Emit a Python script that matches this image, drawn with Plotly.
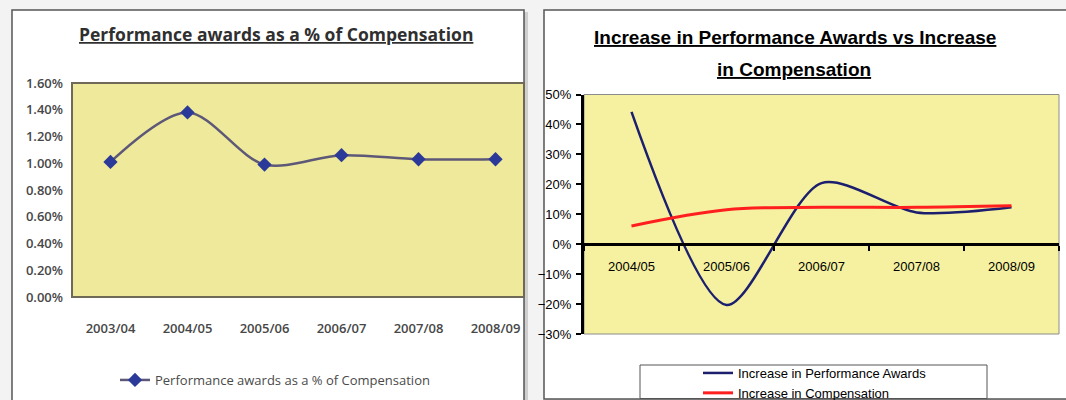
import plotly.graph_objects as go

W, H = 1066, 400

# ---------------- data ----------------
left_years = ["2003/04", "2004/05", "2005/06", "2006/07", "2007/08", "2008/09"]
awards_pct_of_comp = [0.0101, 0.0138, 0.0099, 0.0106, 0.0103, 0.0103]
left_name = "Performance awards as a % of Compensation"

right_years = ["2004/05", "2005/06", "2006/07", "2007/08", "2008/09"]
perf_award_increase = [0.442, -0.203, 0.204, 0.106, 0.123]
comp_increase = [0.061, 0.115, 0.123, 0.123, 0.128]
right_names = ["Increase in Performance Awards", "Increase in Compensation"]

left_title = "Performance awards as a % of Compensation"
right_title = ["Increase in Performance Awards vs Increase", "in Compensation"]

# ---------------- helpers (pixel -> paper) ----------------
def PX(x):
    return x / W

def PY(y):
    return 1 - y / H

# plot-area pixel boxes
L_left, L_right, L_top, L_bot = 72, 524, 83, 297
R_left, R_right, R_top, R_bot = 584, 1059, 94.5, 334
zero_y = 243.5

fig = go.Figure()

fig.add_trace(go.Scatter(
    x=left_years, y=awards_pct_of_comp, name=left_name,
    mode="lines+markers", line=dict(color="#5d5878", width=2.5, shape="spline", smoothing=0.9),
    marker=dict(symbol="diamond", size=11, color="#2b3a98"),
    xaxis="x", yaxis="y", legend="legend",
))

fig.add_trace(go.Scatter(
    x=right_years, y=perf_award_increase, name=right_names[0],
    mode="lines", line=dict(color="#1c1f6e", width=2.5, shape="spline", smoothing=0.8),
    xaxis="x2", yaxis="y2", legend="legend2",
))
fig.add_trace(go.Scatter(
    x=right_years, y=comp_increase, name=right_names[1],
    mode="lines", line=dict(color="#ff1f1f", width=3, shape="spline", smoothing=1),
    xaxis="x2", yaxis="y2", legend="legend2",
))

left_cat_px = 77.0
left_range_hi = -0.5 + (L_right - L_left) / left_cat_px

left_font = dict(family="Open Sans, Arial, sans-serif", size=13, color="#474747", weight=600)
right_font = dict(family="Arial, Liberation Sans, sans-serif", size=13, color="#000000")

shapes = [
    # left panel shadow + frame
    dict(type="rect", xref="paper", yref="paper", x0=PX(14), x1=PX(528), y0=PY(12), y1=PY(412),
         fillcolor="#cfcfcf", line=dict(width=0), layer="below"),
    dict(type="rect", xref="paper", yref="paper", x0=PX(12), x1=PX(524), y0=PY(10), y1=PY(410),
         fillcolor="#ffffff", line=dict(color="#555555", width=1.5), layer="below"),
    # right panel shadow + frame
    dict(type="rect", xref="paper", yref="paper", x0=PX(546), x1=PX(1072), y0=PY(12), y1=PY(402),
         fillcolor="#d4d4d4", line=dict(width=0), layer="below"),
    dict(type="rect", xref="paper", yref="paper", x0=PX(544), x1=PX(1070), y0=PY(10), y1=PY(399),
         fillcolor="#ffffff", line=dict(color="#555555", width=1.5), layer="below"),
    # left plot area
    dict(type="rect", xref="paper", yref="paper", x0=PX(L_left), x1=PX(L_right), y0=PY(L_bot), y1=PY(L_top),
         fillcolor="#efe99b", line=dict(color="#6f6a58", width=2), layer="below"),
    # right plot area
    dict(type="rect", xref="paper", yref="paper", x0=PX(R_left), x1=PX(R_right), y0=PY(R_bot), y1=PY(R_top),
         fillcolor="#f5f1a0", line=dict(color="#8c8c8c", width=1), layer="below"),
    # right legend box
    dict(type="rect", xref="paper", yref="paper", x0=PX(640), x1=PX(987), y0=PY(398.5), y1=PY(365),
         fillcolor="#ffffff", line=dict(color="#555555", width=1), layer="below"),
]

annotations = [
    dict(text="<b><u>%s</u></b>" % left_title, xref="paper", yref="paper", x=PX(275.5), y=PY(34),
         xanchor="center", yanchor="middle", showarrow=False,
         font=dict(family="Open Sans, Arial, sans-serif", size=17.5, color="#2f2f2f")),
    dict(text="<b><u>%s</u></b>" % right_title[0], xref="paper", yref="paper", x=PX(795), y=PY(38),
         xanchor="center", yanchor="middle", showarrow=False,
         font=dict(family="Arial, Liberation Sans, sans-serif", size=19, color="#000000")),
    dict(text="<b><u>%s</u></b>" % right_title[1], xref="paper", yref="paper", x=PX(794), y=PY(69),
         xanchor="center", yanchor="middle", showarrow=False,
         font=dict(family="Arial, Liberation Sans, sans-serif", size=19, color="#000000")),
]

fig.update_layout(
    width=W, height=H,
    margin=dict(l=0, r=0, t=0, b=0, autoexpand=False),
    paper_bgcolor="#f3f3f3",
    plot_bgcolor="rgba(0,0,0,0)",
    showlegend=True,
    shapes=shapes,
    annotations=annotations,
    xaxis=dict(
        domain=[PX(L_left), PX(L_right)], anchor="y",
        type="category", range=[-0.5, left_range_hi],
        showgrid=False, zeroline=False, showline=False, ticks="",
        tickfont=left_font, ticklabelstandoff=22,
    ),
    yaxis=dict(
        domain=[PY(L_bot), PY(L_top)], anchor="x",
        range=[0, 0.016], dtick=0.002, tickformat=".2%",
        showgrid=False, zeroline=False, showline=False, ticks="",
        tickfont=left_font, ticklabelstandoff=8,
    ),
    xaxis2=dict(
        domain=[PX(R_left), PX(R_right)], anchor="free", position=PY(zero_y),
        type="category", range=[-0.5, len(right_years) - 0.5],
        showgrid=False, zeroline=False,
        showline=True, linecolor="#000000", linewidth=3,
        ticks="outside", tickson="boundaries", ticklen=5, tickwidth=2, tickcolor="#000000",
        tickfont=right_font, ticklabelstandoff=10,
    ),
    yaxis2=dict(
        domain=[PY(R_bot), PY(R_top)], anchor="x2",
        range=[-0.3, 0.5], dtick=0.1, tickformat=".0%",
        showgrid=False, zeroline=False,
        showline=True, linecolor="#000000", linewidth=3,
        ticks="outside", ticklen=5, tickwidth=2, tickcolor="#000000",
        tickfont=right_font, ticklabelstandoff=2,
    ),
    legend=dict(
        x=PX(115), y=PY(365), xanchor="left", yanchor="top",
        bgcolor="rgba(0,0,0,0)", borderwidth=0,
        font=dict(family="Open Sans, Arial, sans-serif", size=13, color="#4a4a4a"),
    ),
    legend2=dict(
        x=PX(698), y=PY(358), xanchor="left", yanchor="top",
        bgcolor="rgba(0,0,0,0)", borderwidth=0, tracegroupgap=0,
        font=dict(family="Arial, Liberation Sans, sans-serif", size=13, color="#000000"),
    ),
)

fig.write_html(
    "out.html",
    config={"displayModeBar": False},
    post_script="document.body.style.margin='0px';document.body.style.overflow='hidden';",
)
